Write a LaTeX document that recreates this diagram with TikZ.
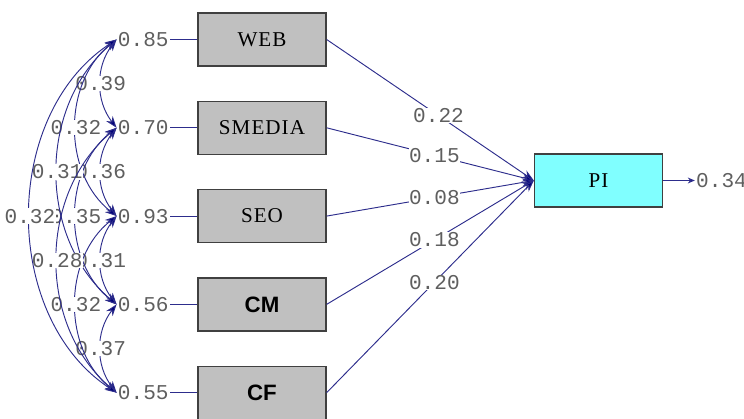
\documentclass[tikz,border=0pt]{standalone}
\usepackage{fontspec}
\setmainfont{Liberation Serif}
\newfontfamily\numfont{Liberation Mono}
\newfontfamily\labsans{Liberation Sans}
\usetikzlibrary{positioning,arrows.meta}
\definecolor{linkblue}{RGB}{45,45,140}
\definecolor{tipblue}{RGB}{0,0,120}
\definecolor{boxgray}{RGB}{192,192,192}
\definecolor{picyan}{RGB}{128,255,255}
\definecolor{numgray}{RGB}{95,95,95}
\tikzset{>={Stealth[length=10pt,width=7pt,fill=tipblue]}}

\begin{document}
\begin{tikzpicture}[x=0.03cm,y=-0.03cm,
  varbox/.style={draw=black!75,line width=1.1pt,fill=boxgray,
    minimum width=3.84cm,minimum height=1.59cm,
    font=\fontsize{18}{18}\selectfont\addfontfeature{LetterSpace=5}},
  numlbl/.style={font=\numfont\fontsize{18}{18}\selectfont,text=numgray,inner sep=1pt},
  covlbl/.style={numlbl,fill=white,inner sep=0.4pt},
  link/.style={draw=linkblue,line width=0.8pt},
  cov/.style={link,<->}
]
            \useasboundingbox (0,0) rectangle (744,419);
            \clip (0,0) rectangle (744,419);

            % observed variables
            \node [varbox] (web) at (262,39.5) {WEB};

            \node [varbox,
              below=1.02cm of web
            ] (smedia) {SMEDIA};

            \node [varbox,
              below=1.02cm of smedia
            ] (seo) {SEO};

            \node [varbox,
              below=1.02cm of seo,
              font=\labsans\bfseries\fontsize{19}{19}\selectfont
            ] (cm) {CM};

            \node [varbox,
              below=1.02cm of cm,
              font=\labsans\bfseries\fontsize{19}{19}\selectfont
            ] (cf) {CF};

            \node [varbox,
              fill=picyan
            ] (pi) at (598.5,180.5) {PI};

            % error variances
            \node [numlbl, left=0.82cm of web] (e1) {0.85};
            \node [numlbl, left=0.82cm of smedia] (e2) {0.70};
            \node [numlbl, left=0.82cm of seo] (e3) {0.93};
            \node [numlbl, left=0.82cm of cm] (e4) {0.56};
            \node [numlbl, left=0.82cm of cf] (e5) {0.55};
            \node [numlbl, right=0.95cm of pi] (e6) {0.34};

            \draw[link] (e1.east) -- (web.west);
            \draw[link] (e2.east) -- (smedia.west);
            \draw[link] (e3.east) -- (seo.west);
            \draw[link] (e4.east) -- (cm.west);
            \draw[link] (e5.east) -- (cf.west);
            \draw[link,-{Stealth[length=6pt,width=5pt,fill=tipblue]}] (pi.east) -- (e6.west);

            % paths to PI
            \draw[link,->] (web.east) -- node[covlbl,pos=0.54] {0.22} (pi.west);
            \draw[link,->] (smedia.east) -- node[covlbl,pos=0.52] {0.15} (pi.west);
            \draw[link,->] (seo.east) -- node[covlbl,pos=0.52] {0.08} (pi.west);
            \draw[link,->] (cm.east) -- node[covlbl,pos=0.52] {0.18} (pi.west);
            \draw[link,->] (cf.east) -- node[covlbl,pos=0.52] {0.20} (pi.west);

            % covariances of the errors
            \draw[cov] (e1.west) to[bend right=38] node[covlbl] {0.39} (e2.west);
            \draw[cov] (e2.west) to[bend right=38] node[covlbl] {0.36} (e3.west);
            \draw[cov] (e3.west) to[bend right=38] node[covlbl] {0.31} (e4.west);
            \draw[cov] (e4.west) to[bend right=38] node[covlbl] {0.37} (e5.west);
            \draw[cov] (e1.west) to[bend right=52] node[covlbl] {0.32} (e3.west);
            \draw[cov] (e2.west) to[bend right=52] node[covlbl] {0.35} (e4.west);
            \draw[cov] (e3.west) to[bend right=52] node[covlbl] {0.32} (e5.west);
            \draw[cov] (e1.west) to[bend right=50] node[covlbl] {0.31} (e4.west);
            \draw[cov] (e2.west) to[bend right=50] node[covlbl] {0.28} (e5.west);
            \draw[cov] (e1.west) to[bend right=57] node[covlbl] {0.32} (e5.west);
          \end{tikzpicture}
\end{document}
